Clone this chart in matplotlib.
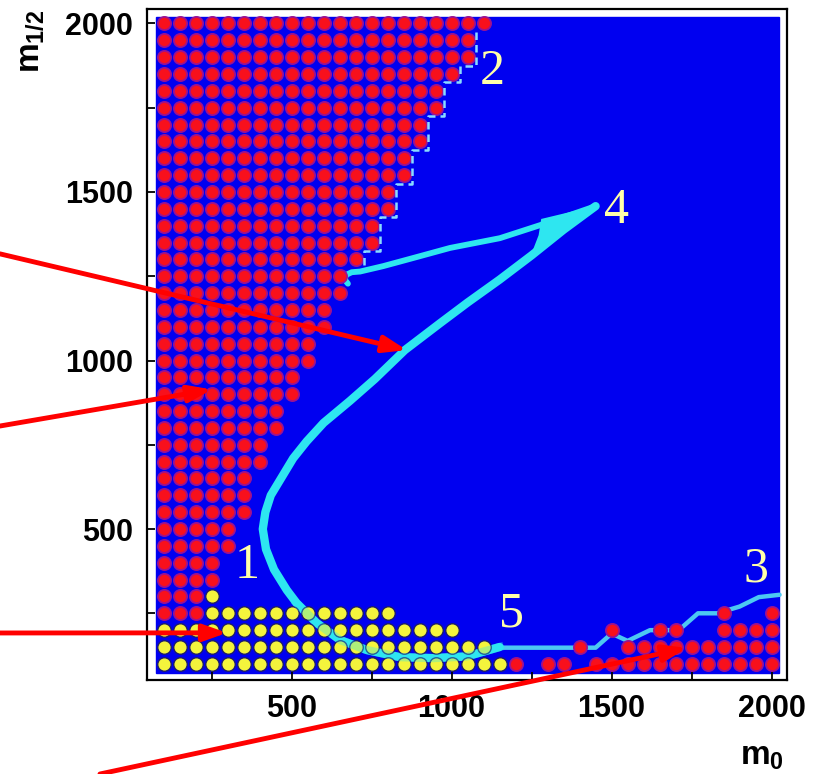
import numpy as np
import matplotlib.pyplot as plt

plt.rcParams['mathtext.fontset'] = 'custom'
plt.rcParams['mathtext.bf'] = 'Liberation Sans:bold'
plt.rcParams['mathtext.rm'] = 'Liberation Sans:bold'

# scan grid (m0, m1/2), step 50
grid_step = 50
grid_start = 100

# red region, upper left: right edge in m0 for every m1/2 row
red_rows = [2000, 1950, 1900, 1850, 1800, 1750, 1700, 1650, 1600, 1550, 1500, 1450,
            1400, 1350, 1300, 1250, 1200, 1150, 1100, 1050, 1000, 950, 900, 850,
            800, 750, 700, 650, 600, 550, 500, 450, 400, 350, 300, 250]
red_edge = [1100, 1050, 1050, 1000, 950, 950, 900, 900, 850, 850, 800, 800,
            750, 750, 700, 650, 650, 600, 600, 550, 550, 500, 500, 450,
            450, 400, 400, 350, 350, 350, 300, 300, 250, 250, 200, 200]

# yellow region, bottom left
yellow_rows = [300, 250, 200, 150, 100]
yellow_from = [250, 250, 100, 100, 100]
yellow_to = [250, 800, 1000, 1100, 1150]

# red points, bottom right (m0 per row)
br_rows = [100, 150, 200, 250]
br_m0 = [
    [1200, 1300, 1350, 1450, 1500, 1550, 1600, 1650, 1700, 1750, 1800, 1850, 1900, 1950, 2000],
    [1400, 1550, 1600, 1650, 1700, 1750, 1800, 1850, 1900, 1950, 2000],
    [1500, 1650, 1700, 1850, 1900, 1950, 2000],
    [1850, 2000],
]

# cyan band: from the bottom up to the tip near label 4
curve_m0 = [1150, 1047, 941, 838, 735, 651, 579, 516, 485, 445, 420, 410, 418, 435,
            470, 505, 547, 600, 682, 760, 854, 963, 1050, 1150, 1250, 1350, 1450]
curve_m12 = [150, 122, 117, 120, 141, 171, 221, 280, 319, 380, 440, 500, 550, 600,
             655, 710, 760, 815, 880, 945, 1031, 1110, 1172, 1240, 1312, 1388, 1458]
# return branch from the tip to the hook
back_m0 = [1450, 1307, 1151, 995, 891, 786, 714, 688, 670, 666, 676]
back_m12 = [1458, 1411, 1363, 1334, 1307, 1280, 1264, 1262, 1254, 1240, 1228]
wedge_m0 = [1455, 1280, 1272, 1250, 1340]
wedge_m12 = [1460, 1420, 1372, 1318, 1385]

# boundary 3
line3_m0 = [1150, 1450, 1500, 1550, 1620, 1710, 1770, 1830, 1900, 1960, 2025]
line3_m12 = [148, 148, 190, 168, 200, 200, 250, 250, 270, 298, 305]

region_labels = ['1', '2', '3', '4', '5']
label_m0 = [360, 1126, 1952, 1516, 1188]
label_m12 = [390, 1857, 380, 1445, 248]

# red arrows: heads in data, tails in figure fraction
arrow_head_m0 = [860, 251, 298, 1735]
arrow_head_m12 = [1031, 914, 192, 147]
arrow_tail_fx = [0.0, 0.0, 0.0, 0.1225]
arrow_tail_fy = [0.672, 0.4496, 0.1822, 0.0]

BLUE = '#0000f0'
RED = '#f8101c'
YELLOW = '#f4f43c'
CYAN = '#2ee6f0'

fig = plt.figure(figsize=(8.16, 7.74), dpi=100)
ax = fig.add_axes((0.1801, 0.1214, 0.7843, 0.867))
ax.set_xlim(48, 2048)
ax.set_ylim(52, 2043)
ax.add_patch(plt.Rectangle((77, 73), 1945, 1945, color=BLUE, zorder=0.5))

# red points
rx, ry = [], []
for r, e in zip(red_rows, red_edge):
    xs = np.arange(grid_start, e + 1, grid_step)
    rx.extend(xs)
    ry.extend([r] * len(xs))
for r, xs in zip(br_rows, br_m0):
    rx.extend(xs)
    ry.extend([r] * len(xs))
ax.scatter(rx, ry, s=90, c=RED, edgecolors='#9c1290', linewidths=1.3, zorder=3)

yx, yy = [], []
for r, a, b in zip(yellow_rows, yellow_from, yellow_to):
    xs = np.arange(a, b + 1, grid_step)
    yx.extend(xs)
    yy.extend([r] * len(xs))

# cyan curves
ax.plot(line3_m0, line3_m12, color='#4cc8f2', lw=3.2, solid_capstyle='round', zorder=2)
ax.plot(curve_m0, curve_m12, color=CYAN, lw=6, solid_capstyle='round',
        solid_joinstyle='round', zorder=2)
ax.plot(back_m0, back_m12, color=CYAN, lw=4.2, solid_capstyle='round',
        solid_joinstyle='round', zorder=2)
ax.fill(wedge_m0, wedge_m12, color=CYAN, lw=0, zorder=2)

ax.scatter(yx, yy, s=95, c=YELLOW, edgecolors='#1c1c6c', linewidths=1.0, zorder=3)
ax.plot(curve_m0[:8], curve_m12[:8], color=CYAN, lw=6, alpha=0.35, zorder=3.5)

# dashed boundary 2 along the red staircase
sx, sy = [], []
for r, e in zip(red_rows[1:15], red_edge[1:15]):
    sx += [e + 25, e + 25]
    sy += [r + 25, r - 25]
ax.plot(sx, sy, color='#8adcff', lw=1.8, ls=(0, (3, 2)), zorder=4)

for t, x, y in zip(region_labels, label_m0, label_m12):
    ax.text(x, y, t, family='Liberation Serif', fontsize=36, color='#ffffa8',
            ha='center', va='center', zorder=5)

ax.set_xticks([500, 1000, 1500, 2000])
ax.set_yticks([500, 1000, 1500, 2000])
ax.set_xticks([250, 750, 1250, 1750], minor=True)
ax.set_yticks([250, 750, 1250, 1750], minor=True)
ax.tick_params(which='both', direction='in', length=6, width=1.3, top=False, right=False)
ax.tick_params(which='major', pad=10, labelsize=22)
for lab in ax.get_xticklabels() + ax.get_yticklabels():
    lab.set_family('Liberation Sans')
    lab.set_fontweight('bold')
for sp in ax.spines.values():
    sp.set_linewidth(1.6)

fig.text(30 / 816, 1 - 41 / 774, r'$\mathbf{m_{1/2}}$', rotation=90, fontsize=24,
         ha='center', va='center')
fig.text(762 / 816, 1 - 755 / 774, r'$\mathbf{m_{0}}$', fontsize=24,
         ha='center', va='center')

for hx, hy, tx, ty in zip(arrow_head_m0, arrow_head_m12, arrow_tail_fx, arrow_tail_fy):
    ax.annotate('', xy=(hx, hy), xycoords='data', xytext=(tx, ty),
                textcoords='figure fraction', annotation_clip=False,
                arrowprops=dict(arrowstyle='-|>,head_length=0.7,head_width=0.25',
                                color='#ff0000', lw=3.5, shrinkA=0, shrinkB=0,
                                mutation_scale=20), zorder=10)

fig.savefig('out.png', dpi=100)
